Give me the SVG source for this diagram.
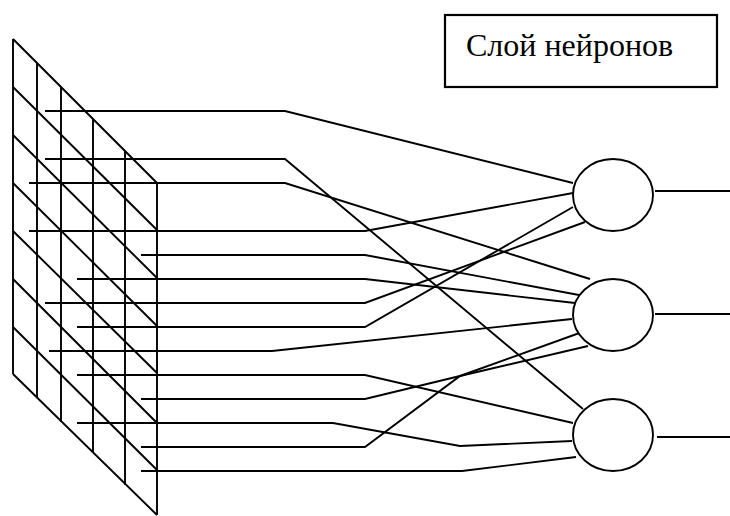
<svg xmlns="http://www.w3.org/2000/svg" width="730" height="516" viewBox="0 0 730 516">
  <style>
    .ln { fill: none; stroke: #000; stroke-width: 1.9; stroke-linejoin: miter; }
    .neuron { fill: #fff; stroke: #000; stroke-width: 1.9; }
    .box { fill: #fff; stroke: #000; stroke-width: 2.2; }
    .label { font-family: "Liberation Serif", "Times New Roman", serif; font-size: 32px; fill: #000; }
  </style>
  <rect width="730" height="516" fill="#fff"/>

  <!-- input retina: skewed grid -->
  <g id="input-grid" class="ln">
    <line x1="13" y1="39" x2="13" y2="374"/>
    <line x1="37" y1="63" x2="37" y2="398"/>
    <line x1="61" y1="87" x2="61" y2="422"/>
    <line x1="93" y1="119" x2="93" y2="453"/>
    <line x1="125" y1="151" x2="125" y2="485"/>
    <line x1="157" y1="183" x2="157" y2="515"/>
    <line x1="13" y1="39" x2="157" y2="183"/>
    <line x1="13" y1="87" x2="157" y2="230"/>
    <line x1="13" y1="135" x2="157" y2="278"/>
    <line x1="13" y1="183" x2="157" y2="326"/>
    <line x1="13" y1="231" x2="157" y2="373"/>
    <line x1="13" y1="279" x2="157" y2="423"/>
    <line x1="13" y1="327" x2="157" y2="470"/>
    <line x1="13" y1="374" x2="157" y2="515"/>
  </g>

  <!-- wires from the grid cells to the neurons -->
  <g id="connectors" class="ln">
    <polyline points="45,111 285,111 573,183"/>
    <polyline points="45,159 285,159 583,409"/>
    <polyline points="29,183 285,183 590,279"/>
    <polyline points="29,231 365,231 573,193"/>
    <polyline points="141,255 365,255 579,295"/>
    <polyline points="77,279 365,279 575,303"/>
    <polyline points="45,303 365,303 585,222"/>
    <polyline points="77,327 365,327 573,207"/>
    <polyline points="49,351 272,351 572,319"/>
    <polyline points="77,375 365,375 573,423"/>
    <polyline points="141,399 365,399 460,376 585,331"/>
    <polyline points="77,423 333,423 460,446 572,441"/>
    <polyline points="141,447 365,447 460,376 588,346"/>
    <polyline points="141,471 462,471 576,457"/>
    <!-- neuron outputs -->
    <line x1="655" y1="191" x2="730" y2="191"/>
    <line x1="655" y1="314" x2="730" y2="314"/>
    <line x1="657" y1="437" x2="730" y2="437"/>
  </g>

  <g id="neuron-1"><ellipse class="neuron" cx="613" cy="195" rx="40" ry="36"/></g>
  <g id="neuron-2"><ellipse class="neuron" cx="613" cy="315" rx="40" ry="36"/></g>
  <g id="neuron-3"><ellipse class="neuron" cx="613" cy="435" rx="40" ry="36"/></g>

  <g id="layer-label">
    <rect class="box" x="445" y="15" width="272" height="72"/>
    <text class="label" x="466" y="56">Слой нейронов</text>
  </g>
</svg>
